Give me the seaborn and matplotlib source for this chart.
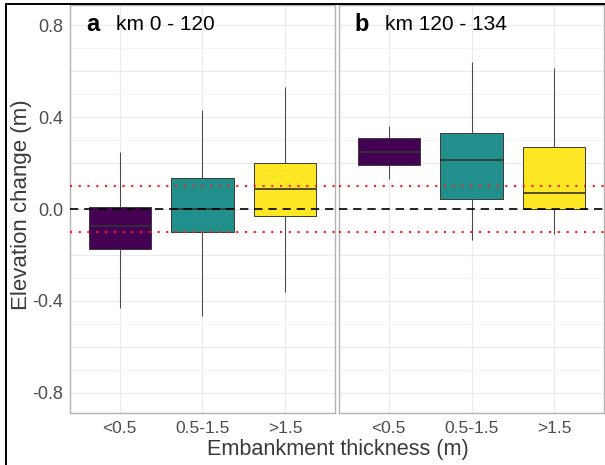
"""
Boxplots of elevation change by embankment thickness, two road sections.
"""

import matplotlib.pyplot as plt
import numpy as np
import pandas as pd
import seaborn as sns
from matplotlib.lines import Line2D

# Data (five-number summaries)
CATEGORIES = ["<0.5", "0.5-1.5", ">1.5"]
PANEL_LETTERS = ["a", "b"]
PANEL_TITLES = ["km 0 - 120", "km 120 - 134"]

# panel a: km 0 - 120
A_LOW = [-0.43, -0.465, -0.36]
A_Q1 = [-0.174, -0.10, -0.03]
A_MEDIAN = [-0.074, 0.0, 0.087]
A_Q3 = [0.01, 0.135, 0.20]
A_HIGH = [0.248, 0.43, 0.53]

# panel b: km 120 - 134
B_LOW = [0.13, -0.135, -0.11]
B_Q1 = [0.19, 0.045, 0.0]
B_MEDIAN = [0.248, 0.213, 0.068]
B_Q3 = [0.31, 0.33, 0.27]
B_HIGH = [0.36, 0.64, 0.615]

THRESHOLDS = [-0.1, 0.1]
Y_TICKS = [-0.8, -0.6, -0.4, -0.2, 0.0, 0.2, 0.4, 0.6, 0.8]
Y_LABELS = ["-0.8", "", "-0.4", "", "0.0", "", "0.4", "", "0.8"]

COLORS = ["#440154", "#21908C", "#FDE725"]
W, H = 605, 465


def montar_tabela(low, q1, med, q3, high):
    """Long table with the summary values of each category."""
    linhas = []
    for i, cat in enumerate(CATEGORIES):
        for v in (low[i], q1[i], med[i], q3[i], high[i]):
            linhas.append({"thickness": cat, "change": v})
    return pd.DataFrame(linhas)


def desenhar_painel(ax, df, letra, titulo, primeiro):
    sns.boxplot(
        data=df, x="thickness", y="change", hue="thickness",
        order=CATEGORIES, hue_order=CATEGORIES, palette=COLORS, saturation=1,
        whis=(0, 100), width=0.75, showcaps=False, showfliers=False,
        linecolor="#3a3a3a", linewidth=0.7, legend=False, ax=ax,
        medianprops={"color": "#333333", "linewidth": 1.2},
        whiskerprops={"color": "#4a4a4a", "linewidth": 0.75},
        boxprops={"zorder": 3}, zorder=3,
    )
    ax.axhline(0, color="black", linestyle=(0, (5, 3.5)), linewidth=1.2, zorder=5)
    for t in THRESHOLDS:
        ax.axhline(t, color="#ff1a1a", linestyle=(0, (1, 3.2)), linewidth=1.5, zorder=5)

    ax.set_xlim(-0.6, 2.6)
    ax.set_ylim(-0.887, 0.887)
    ax.set_yticks(Y_TICKS)
    ax.set_yticks(np.arange(-0.7, 0.8, 0.2), minor=True)
    ax.grid(True, which="major", color="#ebebeb", linewidth=0.9, zorder=0)
    ax.grid(True, which="minor", axis="y", color="#f4f4f4", linewidth=0.7, zorder=0)
    ax.set_axisbelow(True)
    ax.set_xlabel("")
    ax.set_ylabel("")
    ax.tick_params(axis="x", length=3, width=0.6, color="#555555",
                   labelsize=12.5, labelcolor="#4d4d4d", pad=2.5)
    ax.tick_params(which="minor", length=0)
    if primeiro:
        ax.set_yticklabels(Y_LABELS)
        ax.tick_params(axis="y", length=3, width=0.6, color="#555555",
                       labelsize=13, labelcolor="#4d4d4d", pad=2)
    else:
        ax.set_yticklabels([])
        ax.tick_params(axis="y", length=0)
    for s in ax.spines.values():
        s.set_color("#b3b3b3")
        s.set_linewidth(1.0)

    ax.text(0.06, 0.951, letra, transform=ax.transAxes, fontsize=17,
            fontweight="bold", va="center", ha="left", color="black")
    ax.text(0.172, 0.951, titulo, transform=ax.transAxes, fontsize=15,
            va="center", ha="left", color="black")


def main():
    sns.set_theme(style="whitegrid")
    plt.rcParams["font.family"] = ["Liberation Sans", "DejaVu Sans"]

    fig = plt.figure(figsize=(W / 100, H / 100), dpi=100)
    fig.patch.set_facecolor("white")
    ax_a = fig.add_axes([70 / W, 1 - 413 / H, 265 / W, 408 / H])
    ax_b = fig.add_axes([339 / W, 1 - 413 / H, 265 / W, 408 / H])

    df_a = montar_tabela(A_LOW, A_Q1, A_MEDIAN, A_Q3, A_HIGH)
    df_b = montar_tabela(B_LOW, B_Q1, B_MEDIAN, B_Q3, B_HIGH)
    desenhar_painel(ax_a, df_a, PANEL_LETTERS[0], PANEL_TITLES[0], True)
    desenhar_painel(ax_b, df_b, PANEL_LETTERS[1], PANEL_TITLES[1], False)

    fig.text(22 / W, 1 - 205 / H, "Elevation change (m)", rotation=90,
             fontsize=16, color="#3a3a3a", ha="center", va="center")
    fig.text(338 / W, 1 - 449.5 / H, "Embankment thickness (m)",
             fontsize=15.6, color="#3a3a3a", ha="center", va="center")

    # black frame of the cropped original (left and top)
    fig.add_artist(Line2D([5.5 / W, 5.5 / W], [0, 1 - 4.5 / H],
                          color="black", linewidth=1.4, transform=fig.transFigure))
    fig.add_artist(Line2D([5.5 / W, 1], [1 - 4.5 / H, 1 - 4.5 / H],
                          color="black", linewidth=1.4, transform=fig.transFigure))

    fig.savefig("out.png", dpi=100)
    plt.close(fig)


if __name__ == "__main__":
    main()
